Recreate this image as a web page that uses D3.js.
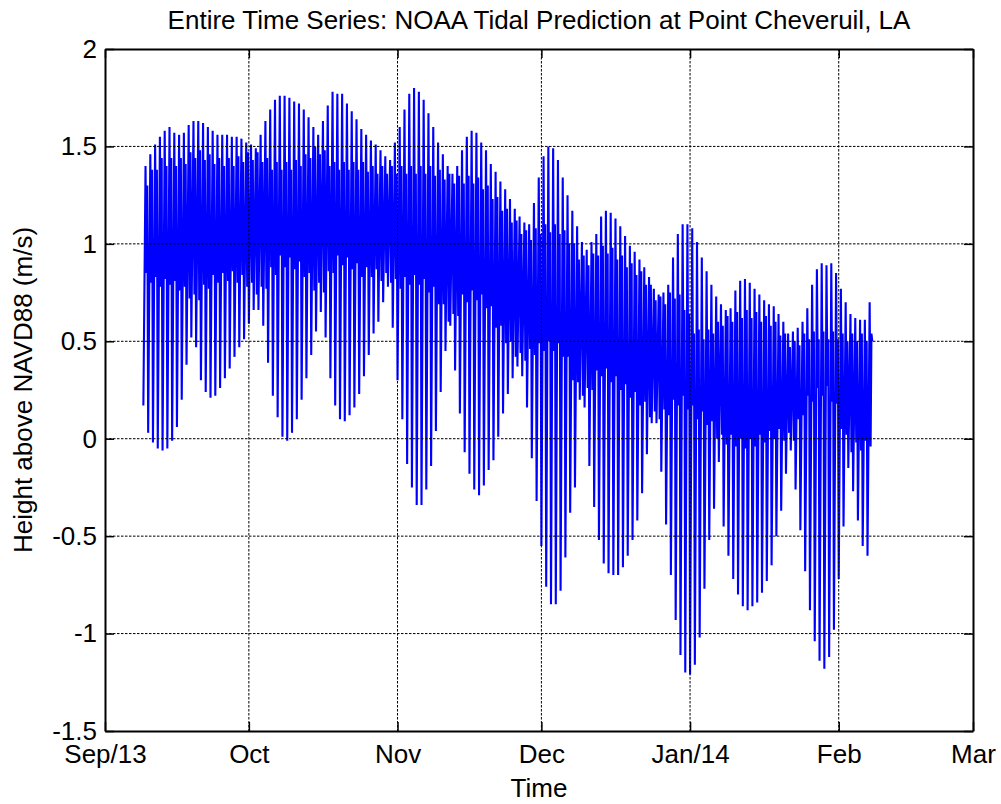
<!DOCTYPE html>
<html>
<head>
<meta charset="utf-8">
<script src="https://cdn.jsdelivr.net/npm/d3@7"></script>
<style>
  body { margin: 0; background: #fff; }
  text { font-family: "Liberation Sans", Arial, Helvetica, sans-serif; }
</style>
</head>
<body>
<svg id="chart"></svg>
<script>
// first day of the record (UTC), one entry per day after that
var firstDay = "2013-09-09";

// daily lower low / higher high / higher low / lower high (m)
var lowerLow = [
  0.17,0.03,-0.02,-0.05,-0.06,-0.05,-0.01,0.06,0.20,0.38,
  0.52,0.47,0.30,0.24,0.21,0.22,0.26,0.31,0.36,0.42,
  0.47,0.51,0.59,0.66,0.66,0.58,0.39,0.22,0.11,0.01,
  -0.01,0.03,0.10,0.20,0.31,0.43,0.55,0.65,0.52,0.31,
  0.17,0.10,0.09,0.12,0.16,0.23,0.32,0.43,0.54,0.60,
  0.70,0.78,0.57,0.30,0.10,-0.13,-0.25,-0.34,-0.34,-0.26,
  -0.14,0.04,0.24,0.45,0.58,0.35,0.13,-0.07,-0.18,-0.26,
  -0.29,-0.24,-0.16,-0.11,0.01,0.13,0.23,0.31,0.37,0.32,
  0.16,-0.10,-0.32,-0.55,-0.76,-0.85,-0.85,-0.78,-0.61,-0.38,
  -0.25,0.20,0.16,-0.14,-0.35,-0.52,-0.64,-0.69,-0.70,-0.70,
  -0.66,-0.60,-0.52,-0.42,-0.28,-0.08,0.08,0.08,-0.17,-0.44,
  -0.70,-0.93,-1.11,-1.20,-1.21,-1.16,-1.02,-0.77,-0.52,-0.36,
  -0.12,-0.45,-0.60,-0.72,-0.80,-0.86,-0.88,-0.86,-0.84,-0.79,
  -0.73,-0.65,-0.50,-0.37,-0.18,-0.06,-0.26,-0.47,-0.68,-0.88,
  -1.04,-1.14,-1.18,-1.12,-0.98,-0.72,-0.45,-0.15,-0.27,-0.42,
  -0.55,-0.60
];
var higherHigh = [
  1.40,1.46,1.51,1.55,1.58,1.60,1.57,1.56,1.57,1.61,
  1.63,1.63,1.62,1.60,1.58,1.56,1.56,1.56,1.55,1.55,
  1.54,1.52,1.51,1.49,1.56,1.63,1.69,1.74,1.76,1.76,
  1.75,1.73,1.72,1.69,1.65,1.60,1.56,1.63,1.71,1.78,
  1.77,1.77,1.72,1.68,1.64,1.59,1.56,1.53,1.51,1.48,
  1.45,1.43,1.52,1.60,1.69,1.77,1.80,1.78,1.74,1.67,
  1.60,1.52,1.46,1.40,1.36,1.40,1.48,1.55,1.58,1.57,
  1.52,1.48,1.41,1.37,1.32,1.28,1.23,1.18,1.14,1.11,
  1.10,1.21,1.34,1.45,1.50,1.49,1.43,1.34,1.25,1.17,
  1.09,1.01,0.97,1.01,1.05,1.14,1.17,1.16,1.13,1.09,
  1.04,0.99,0.96,0.92,0.88,0.83,0.77,0.74,0.75,0.79,
  0.93,1.05,1.10,1.10,1.08,1.01,0.93,0.86,0.79,0.73,
  0.69,0.66,0.67,0.76,0.81,0.82,0.80,0.77,0.74,0.71,
  0.69,0.68,0.64,0.60,0.54,0.55,0.57,0.60,0.67,0.79,
  0.87,0.90,0.89,0.90,0.85,0.77,0.70,0.64,0.62,0.61,
  0.61,0.70
];
var higherLow = [
  0.85,0.80,0.83,0.78,0.82,0.79,0.81,0.76,0.78,0.72,
  0.74,0.71,0.79,0.77,0.84,0.80,0.85,0.81,0.86,0.80,
  0.84,0.78,0.80,0.74,0.78,0.77,0.88,0.84,0.94,0.88,
  0.93,0.87,0.91,0.83,0.85,0.76,0.80,0.75,0.86,0.85,
  0.94,0.89,0.93,0.87,0.90,0.83,0.88,0.83,0.87,0.81,
  0.85,0.80,0.82,0.77,0.83,0.79,0.84,0.79,0.82,0.75,
  0.78,0.69,0.69,0.60,0.64,0.63,0.74,0.70,0.76,0.71,
  0.74,0.67,0.68,0.57,0.58,0.49,0.50,0.42,0.44,0.40,
  0.46,0.43,0.49,0.45,0.50,0.45,0.49,0.42,0.42,0.30,
  0.29,0.22,0.26,0.25,0.35,0.32,0.36,0.29,0.32,0.25,
  0.28,0.21,0.24,0.17,0.19,0.11,0.14,0.10,0.15,0.12,
  0.20,0.17,0.22,0.15,0.17,0.10,0.14,0.07,0.09,0.00,
  0.02,-0.03,0.02,-0.04,0.00,-0.05,0.00,-0.04,0.02,-0.02,
  0.04,0.00,0.05,-0.01,0.03,-0.01,0.10,0.12,0.22,0.19,
  0.26,0.22,0.27,0.19,0.18,0.05,0.02,-0.07,-0.02,-0.06,
  -0.01,-0.04
];
var lowerHigh = [
  1.30,1.38,1.38,1.44,1.40,1.44,1.40,1.44,1.41,1.47,
  1.44,1.48,1.43,1.46,1.41,1.44,1.40,1.44,1.40,1.45,
  1.42,1.47,1.43,1.47,1.42,1.44,1.38,1.42,1.38,1.42,
  1.38,1.43,1.40,1.46,1.44,1.50,1.46,1.48,1.40,1.42,
  1.38,1.42,1.38,1.42,1.38,1.42,1.37,1.40,1.36,1.40,
  1.36,1.40,1.36,1.40,1.36,1.40,1.36,1.40,1.36,1.40,
  1.35,1.38,1.33,1.36,1.31,1.35,1.31,1.35,1.31,1.34,
  1.28,1.30,1.23,1.24,1.17,1.18,1.11,1.12,1.05,1.07,
  1.02,1.08,1.05,1.10,1.06,1.10,1.05,1.07,1.00,1.00,
  0.92,0.94,0.89,0.95,0.94,0.99,0.95,0.98,0.92,0.94,
  0.88,0.90,0.84,0.86,0.79,0.79,0.71,0.73,0.69,0.75,
  0.72,0.74,0.66,0.64,0.54,0.56,0.51,0.56,0.54,0.60,
  0.58,0.63,0.60,0.65,0.62,0.66,0.62,0.65,0.60,0.63,
  0.58,0.60,0.53,0.54,0.47,0.50,0.48,0.54,0.51,0.55,
  0.51,0.55,0.51,0.55,0.51,0.54,0.50,0.54,0.50,0.54,
  0.50,0.54
];
var lastValue = 0.50;

var monthTicks = ["2013-09-01","2013-10-01","2013-11-01","2013-12-01","2014-01-01","2014-02-01","2014-03-01"];
var monthLabels = ["Sep/13","Oct","Nov","Dec","Jan/14","Feb","Mar"];
var levelTicks = [-1.5,-1,-0.5,0,0.5,1,1.5,2];

var width = 1001, height = 804;
var plotLeft = 105, plotRight = 973, plotTop = 49, plotBottom = 731;
var fontSize = 26;

var svg = d3.select("#chart").attr("width", width).attr("height", height);

var x = d3.scaleUtc()
    .domain([new Date(monthTicks[0]), new Date(monthTicks[monthTicks.length - 1])])
    .range([plotLeft, plotRight]);
var y = d3.scaleLinear().domain([-1.5, 2]).range([plotBottom, plotTop]);

// turning points of each day: LL -> HH -> HL -> LH -> next LL
var dayMs = 864e5;
var t0 = new Date(firstDay).getTime();
var points = [];
lowerLow.forEach(function(v, i) {
  var t = t0 + i * dayMs;
  points.push({t: t, v: v});
  points.push({t: t + 0.45 * dayMs, v: higherHigh[i]});
  points.push({t: t + 0.65 * dayMs, v: higherLow[i]});
  points.push({t: t + 0.82 * dayMs, v: lowerHigh[i]});
});
points.push({t: t0 + lowerLow.length * dayMs, v: lastValue});

var line = d3.line()
    .x(function(d) { return x(new Date(d.t)); })
    .y(function(d) { return y(d.v); });

svg.append("path")
    .datum(points)
    .attr("d", line)
    .attr("fill", "none")
    .attr("stroke", "#0000ff")
    .attr("stroke-width", 2.1);

// dotted grid drawn over the data, like the original
var grid = svg.append("g").attr("stroke", "#000").attr("stroke-width", 1).attr("stroke-dasharray", "2.5,1.5");
grid.selectAll(".gx").data(monthTicks.slice(1, -1)).enter().append("line")
    .attr("x1", function(d) { return x(new Date(d)); })
    .attr("x2", function(d) { return x(new Date(d)); })
    .attr("y1", plotTop).attr("y2", plotBottom);
grid.selectAll(".gy").data(levelTicks.slice(1, -1)).enter().append("line")
    .attr("y1", function(d) { return y(d); })
    .attr("y2", function(d) { return y(d); })
    .attr("x1", plotLeft).attr("x2", plotRight);

var tickDates = monthTicks.map(function(d) { return new Date(d); });

var xAxis = d3.axisBottom(x).tickValues(tickDates)
    .tickFormat(function(d, i) { return monthLabels[i]; })
    .tickSizeInner(-9).tickSizeOuter(0).tickPadding(14);
var yAxis = d3.axisLeft(y).tickValues(levelTicks)
    .tickFormat(function(d) { return String(d); })
    .tickSizeInner(-9).tickSizeOuter(0).tickPadding(8);

svg.append("g").attr("transform", "translate(0," + plotBottom + ")").call(xAxis);
svg.append("g").attr("transform", "translate(0," + plotTop + ")")
    .call(d3.axisTop(x).tickValues(tickDates).tickFormat("").tickSizeInner(-9).tickSizeOuter(0));
svg.append("g").attr("transform", "translate(" + plotLeft + ",0)").call(yAxis);
svg.append("g").attr("transform", "translate(" + plotRight + ",0)")
    .call(d3.axisRight(y).tickValues(levelTicks).tickFormat("").tickSizeInner(-9).tickSizeOuter(0));

svg.selectAll(".domain").attr("stroke", "#000").attr("stroke-width", 2);
svg.selectAll(".tick line").attr("stroke", "#000").attr("stroke-width", 1.5);
svg.selectAll(".tick text").attr("fill", "#000").style("font-size", fontSize + "px");

svg.append("text")
    .attr("x", (plotLeft + plotRight) / 2).attr("y", 29)
    .attr("text-anchor", "middle").style("font-size", fontSize + "px")
    .text("Entire Time Series: NOAA Tidal Prediction at Point Cheveruil, LA");

svg.append("text")
    .attr("x", (plotLeft + plotRight) / 2).attr("y", 797)
    .attr("text-anchor", "middle").style("font-size", fontSize + "px")
    .text("Time");

svg.append("text")
    .attr("transform", "translate(32," + (plotTop + plotBottom) / 2 + ") rotate(-90)")
    .attr("text-anchor", "middle").style("font-size", fontSize + "px")
    .text("Height above NAVD88 (m/s)");
</script>
</body>
</html>
